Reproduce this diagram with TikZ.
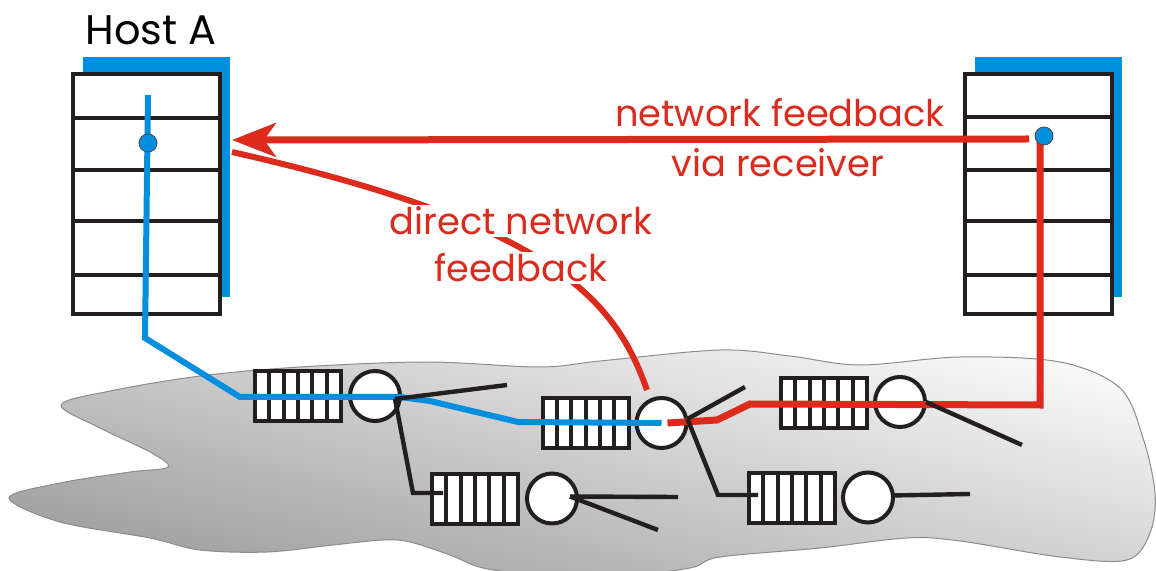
\documentclass[tikz,border=0pt]{standalone}
\usepackage{fontspec}
\setmainfont{Poppins}
\usetikzlibrary{arrows.meta,calc,shadows}
\definecolor{kred}{RGB}{220,42,28}
\definecolor{kblue}{RGB}{0,142,222}
\definecolor{kblack}{RGB}{35,31,32}
\begin{document}
\begin{tikzpicture}[x=0.5pt,y=-0.5pt,
  host/.style={draw=kblack, line width=2pt, fill=white, minimum width=73.5pt, minimum height=120pt, inner sep=0pt,
    general shadow={fill=kblue, shadow xshift=5pt, shadow yshift=8.5pt}},
  hostline/.style={draw=kblack, line width=2pt},
  queue/.style={draw=kblack, line width=2pt, fill=white, minimum width=43pt, minimum height=25pt, inner sep=0pt,
    path picture={\foreach \i in {1,...,5}{\draw[kblack, line width=2pt]
      ($(path picture bounding box.north west)!\i/6!(path picture bounding box.north east)$) --
      ($(path picture bounding box.south west)!\i/6!(path picture bounding box.south east)$);}}},
  router/.style={circle, draw=kblack, line width=2pt, fill=white, minimum size=25pt, inner sep=0pt},
  link/.style={draw=kblack, line width=2.2pt},
  dot/.style={circle, fill=kblue, draw=kblack!80, line width=0.4pt, minimum size=9pt, inner sep=0pt},
  bluepath/.style={draw=kblue, line width=3pt},
  redpath/.style={draw=kred, line width=3.5pt},
  rlbl/.style={text=kred, font=\fontsize{18.4}{22}\selectfont, inner sep=1pt},
  hlbl/.style={text=black, font=\fontsize{20.7}{24}\selectfont, inner sep=1pt}]
\useasboundingbox (0,0) rectangle (1156,571);
% cloud
\shade[top color=black!3, bottom color=black!38, shading angle=-14, draw=black!45, line width=0.5pt]
  plot[smooth cycle, tension=0.55] coordinates {
  (61,405) (110,391) (200,376) (300,367) (427,362) (540,367) (600,361) (720,350) (790,356) (860,365)
  (960,357) (1060,362) (1120,388) (1143,438) (1155,493) (1150,533) (1127,560) (1060,557) (960,541)
  (907,538) (820,548) (720,557) (690,568) (620,576) (540,575) (483,568) (450,555) (410,542) (383,540)
  (333,545) (267,552) (200,550) (150,538) (60,522) (9,498) (60,483) (130,472) (168,467) (150,452) (100,428)};
% hosts
\node[host] (hA) at (146.5,194.5) {};
\node[host] (hB) at (1038,194) {};
\foreach \h in {hA,hB}{
  \foreach \f in {0.185,0.40,0.61,0.83}{
    \draw[hostline] ($(\h.north west)!\f!(\h.south west)$) -- ($(\h.north east)!\f!(\h.south east)$);}}
\node[hlbl, anchor=base] (tHost) at (151,45) {Host A};
% feedback via receiver
\coordinate (arS) at (1029,139);
\coordinate (arT) at (232,140);
\draw[redpath, -{Stealth[length=22pt, width=17pt, inset=6pt]}] (arS) -- (arT);
\node[rlbl, anchor=base] (tNF1) at (780,127) {network feedback};
\node[rlbl, anchor=base] (tNF2) at (778,177) {via receiver};
% direct feedback
\coordinate (dF) at (647,390);
\coordinate (dH) at (232,152);
\draw[redpath, line width=3pt] (dF) .. controls (615,300) and (555,225) .. (dH);
\node[rlbl, anchor=base, fill=white] (tDF1) at (521,235) {direct network};
\node[rlbl, anchor=base, fill=white] (tDF2) at (521,282) {feedback};
% queues and routers
\node[queue] (q1) at (298,396) {};
\node[queue] (q2) at (585.5,423) {};
\node[queue] (q3) at (824,403) {};
\node[queue] (q4) at (475,498.5) {};
\node[queue] (q5) at (792,497.5) {};
\node[router] (r1) at ($(q1)+(77,0)$) {};
\node[router] (r2) at ($(q2)+(76,0)$) {};
\node[router] (r3) at ($(q3)+(76,-1)$) {};
\node[router] (r4) at ($(q4)+(77,0)$) {};
\node[router] (r5) at ($(q5)+(76,0)$) {};
% blue path
\coordinate (b0) at (148,95);
\coordinate (b1) at (145,338);
\coordinate (b2) at (240,397);
\coordinate (b3) at (400,397);
\coordinate (b4) at (430,401);
\coordinate (b5) at (518,422);
\draw[bluepath] (b0) -- (b1) -- (b2) -- (b3) -- (b4) -- (b5) -- (r2.center);
% red path
\coordinate (c0) at (1040,140);
\coordinate (c1) at (1040,405);
\coordinate (c2) at (750,404);
\coordinate (c3) at (717,420);
\draw[redpath] (c0) -- (c1) -- (c2) -- (c3) -- ($(r2.center)+(6,0)$);
% links
\coordinate (e1) at (507,385);
\coordinate (k1) at (413,493);
\coordinate (e2) at (745,387);
\coordinate (k2) at (718,495);
\coordinate (e3) at (1022,445);
\coordinate (e4a) at (678,497);
\coordinate (e4b) at (658,530);
\coordinate (e5) at (970,494);
\draw[link] ($(r1)+(20,3)$) -- (e1);
\draw[link] ($(r1)+(20,3)$) -- (k1) -- ($(q4.west)+(13,-5.5)$);
\draw[link] ($(r2)+(26,-4)$) -- (e2);
\draw[link] ($(r2)+(26,-4)$) -- (k2) -- ($(q5.west)+(11,-2.5)$);
\draw[link] ($(r3)+(26,0)$) -- (e3);
\draw[link] ($(r4)+(18,-2)$) -- (e4a);
\draw[link] ($(r4)+(18,-2)$) -- (e4b);
\draw[link] ($(r5)+(24,-2)$) -- (e5);
% dots
\node[dot] (dA) at (148,143) {};
\node[dot] (dB) at (1044,136) {};
\end{tikzpicture}
\end{document}
